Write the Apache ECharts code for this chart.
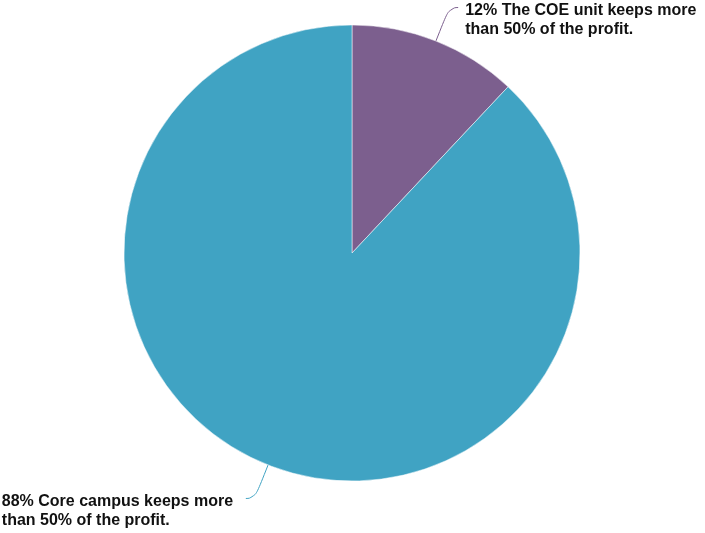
<!DOCTYPE html>
<html>
<head>
<meta charset="utf-8">
<script src="https://cdn.jsdelivr.net/npm/echarts@6/dist/echarts.min.js"></script>
<style>
  html, body { margin: 0; padding: 0; background: #fff; }
  #chart { width: 705px; height: 533px; }
</style>
</head>
<body>
<div id="chart"></div>
<script>
// slice names and shares (%)
const categories = [
  'The COE unit keeps more than 50% of the profit.',
  'Core campus keeps more than 50% of the profit.'
];
const values = [12, 88];
const colors = ['#7c5f8e', '#40a3c3'];

let myChart = echarts.init(document.getElementById('chart'));
myChart.setOption({
  animation: false,
  series: [
    {
      type: 'pie',
      center: [352, 253],
      radius: 228,
      startAngle: 90,
      clockwise: true,
      data: categories.map((name, i) => ({
        name: name,
        value: values[i],
        itemStyle: { color: colors[i] }
      })),
      itemStyle: {
        borderColor: '#fff',
        borderWidth: 0.5
      },
      label: {
        show: true,
        formatter: p => '{t|' + p.value + '% ' + p.name + '}',
        width: 237,
        overflow: 'break',
        padding: [26, 0, 0, 0],
        distanceToLabelLine: 7,
        rich: {
          t: {
            align: 'left',
            color: '#111',
            fontFamily: 'Liberation Sans',
            fontWeight: 'bold',
            fontSize: 16,
            lineHeight: 19
          }
        }
      },
      labelLine: {
        show: true,
        length: 36,
        length2: 9,
        smooth: 0.6,
        lineStyle: { width: 1 }
      }
    }
  ]
});
</script>
</body>
</html>
